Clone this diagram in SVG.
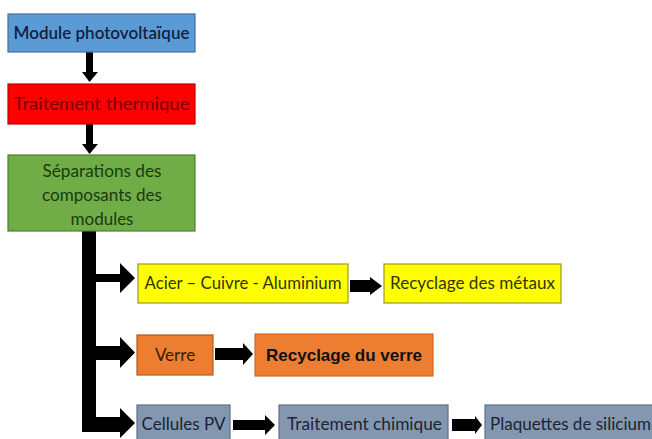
<svg xmlns="http://www.w3.org/2000/svg" width="652" height="439" viewBox="0 0 652 439">
<style>
.t{font-family:Lato,"Open Sans","Liberation Sans",sans-serif;font-size:17px;text-anchor:middle}
.b{stroke-width:1.2}
.ar{fill:#000}
</style>
<rect width="652" height="439" fill="#ffffff"/>
<g id="connectors" class="ar">
<polygon points="86,52 93,52 93,72 98,72 89.5,82 82,72 86,72"/>
<polygon points="86,124 93,124 93,144 98,144 89.5,154 82,144 86,144"/>
<rect x="82" y="231" width="14" height="201"/>
<polygon points="82,274 120,274 120,263 135,278 120,293 120,282 82,282" />
<polygon points="82,346 120,346 120,337 135,352.5 120,368 120,360 82,360"/>
<polygon points="82,417 120,417 120,408 135,423 120,438 120,432 82,432"/>
<polygon points="350,280 370,280 370,277 382,286 370,295 370,292 350,292"/>
<polygon points="215,348 243,348 243,343 253,354 243,365 243,360 215,360"/>
<polygon points="233,420 265,420 265,415 275,425 265,435 265,430 233,430"/>
<polygon points="452,419 475,419 475,416 482,425 475,434 475,431 452,431"/>
</g>
<g id="n1">
<rect class="b" x="8" y="14" width="187" height="38" fill="#5B9BD5" stroke="#41719C"/>
<text class="t" x="101.5" y="39" fill="#14213d" font-weight="600" textLength="176" lengthAdjust="spacingAndGlyphs">Module photovoltaïque</text>
</g>
<g id="n2">
<rect class="b" x="8" y="84" width="187" height="40" fill="#FF0000" stroke="#C00000"/>
<text class="t" x="101.5" y="110" fill="#7a0000" textLength="176" lengthAdjust="spacingAndGlyphs">Traitement thermique</text>
</g>
<g id="n3">
<rect class="b" x="8" y="155" width="187" height="76" fill="#70AD47" stroke="#507E32"/>
<text class="t" x="102" y="177" fill="#1a3a10" textLength="119" lengthAdjust="spacingAndGlyphs">Séparations des</text>
<text class="t" x="102" y="201" fill="#1a3a10" textLength="120" lengthAdjust="spacingAndGlyphs">composants des</text>
<text class="t" x="102" y="225" fill="#1a3a10">modules</text>
</g>
<g id="n4">
<rect class="b" x="138" y="264" width="210" height="39" fill="#FFFF00" stroke="#9a9a20"/>
<text class="t" x="243" y="289" fill="#33330a" textLength="197" lengthAdjust="spacingAndGlyphs">Acier – Cuivre - Aluminium</text>
</g>
<g id="n5">
<rect class="b" x="384" y="264" width="177" height="39" fill="#FFFF00" stroke="#9a9a20"/>
<text class="t" x="472.5" y="289" fill="#33330a" textLength="165" lengthAdjust="spacingAndGlyphs">Recyclage des métaux</text>
</g>
<g id="n6">
<rect class="b" x="137" y="335" width="76" height="40" fill="#ED7D31" stroke="#AE5A21"/>
<text class="t" x="175" y="361" fill="#3a1c08">Verre</text>
</g>
<g id="n7">
<rect class="b" x="255" y="334" width="178" height="42" fill="#ED7D31" stroke="#D06A28"/>
<text x="344" y="361" font-family="'Liberation Sans',Arial,sans-serif" font-weight="bold" font-size="17" text-anchor="middle" fill="#111">Recyclage du verre</text>
</g>
<g id="n8">
<rect class="b" x="137" y="405" width="93" height="40" fill="#8497B0" stroke="#5E6E85"/>
<text class="t" x="183.5" y="430" fill="#1b2433" textLength="84" lengthAdjust="spacingAndGlyphs">Cellules PV</text>
</g>
<g id="n9">
<rect class="b" x="279" y="405" width="169" height="40" fill="#8497B0" stroke="#5E6E85"/>
<text class="t" x="364.5" y="430" fill="#1b2433" textLength="155" lengthAdjust="spacingAndGlyphs">Traitement chimique</text>
</g>
<g id="n10">
<rect class="b" x="485" y="405" width="175" height="40" fill="#8497B0" stroke="#5E6E85"/>
<text x="490" y="430" font-family="Lato,'Open Sans','Liberation Sans',sans-serif" font-size="17" fill="#1b2433" textLength="161" lengthAdjust="spacingAndGlyphs">Plaquettes de silicium</text>
</g>
</svg>
